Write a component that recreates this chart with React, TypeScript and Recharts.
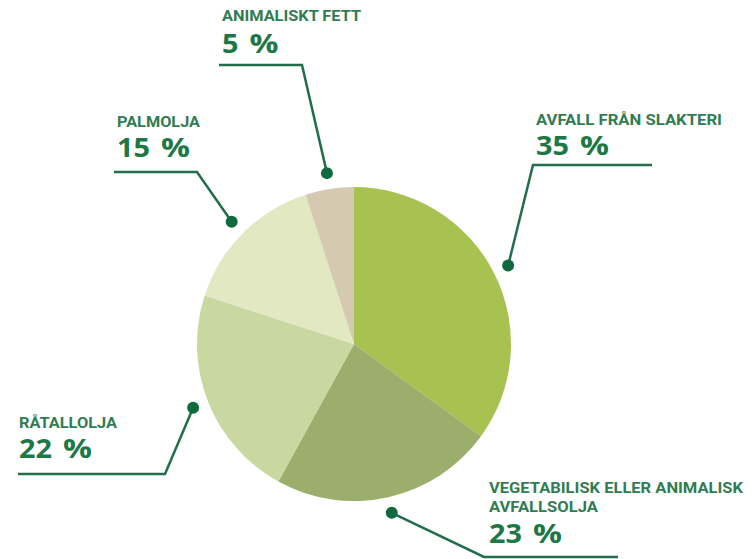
import React from "react";
import { PieChart, Pie, Cell } from "recharts";

const categories = [
  "AVFALL FRÅN SLAKTERI",
  "VEGETABILISK ELLER ANIMALISK AVFALLSOLJA",
  "RÅTALLOLJA",
  "PALMOLJA",
  "ANIMALISKT FETT",
];
const values = [35, 23, 22, 15, 5];
const percentLabels = ["35 %", "23 %", "22 %", "15 %", "5 %"];
const sliceColors = ["#a7c250", "#9bae6b", "#c9d8a1", "#e2e9c2", "#d6c9b1"];

const data = categories.map((name, i) => ({ name, value: values[i] }));

// layout of the callouts (elbow point, line end, text anchor, title lines)
type Layout = {
  elbowX: number;
  elbowY: number;
  endX: number;
  textX: number;
  titles: { text: string; y: number; w: number }[];
  pctY: number;
};
const layouts: Layout[] = [
  {
    elbowX: 533, elbowY: 165, endX: 652, textX: 536,
    titles: [{ text: "AVFALL FRÅN SLAKTERI", y: 125, w: 186 }],
    pctY: 155,
  },
  {
    elbowX: 484, elbowY: 557, endX: 618, textX: 489,
    titles: [
      { text: "VEGETABILISK ELLER ANIMALISK", y: 493, w: 254 },
      { text: "AVFALLSOLJA", y: 512, w: 109 },
    ],
    pctY: 543,
  },
  {
    elbowX: 165, elbowY: 474, endX: 18, textX: 19,
    titles: [{ text: "RÅTALLOLJA", y: 428, w: 98 }],
    pctY: 458,
  },
  {
    elbowX: 197, elbowY: 172, endX: 114, textX: 117,
    titles: [{ text: "PALMOLJA", y: 127, w: 83 }],
    pctY: 157,
  },
  {
    elbowX: 302, elbowY: 65, endX: 219, textX: 222,
    titles: [{ text: "ANIMALISKT FETT", y: 21, w: 139 }],
    pctY: 53,
  },
];

const RADIAN = Math.PI / 180;
const LINE = "#226e4a";
const TITLE = "#317c52";
const PCT = "#1e7846";
const DIGIT_W = 16.5;
const PCT_GAP = 11;
const PCT_SIGN_W = 29;

const renderLabel = (props: any) => {
  const { cx, cy, midAngle, outerRadius, index } = props;
  const L = layouts[index];
  const r = outerRadius + 16;
  const dx = cx + r * Math.cos(-midAngle * RADIAN);
  const dy = cy + r * Math.sin(-midAngle * RADIAN);
  const [num, sign] = percentLabels[index].split(" ");
  const numW = DIGIT_W * num.length;
  const pctFont = {
    fill: PCT,
    fontFamily: "'Open Sans', 'Noto Sans', sans-serif",
    fontWeight: 700,
    fontSize: 26,
  } as const;
  return (
    <g key={`lbl-${index}`}>
      <polyline
        points={`${dx},${dy} ${L.elbowX},${L.elbowY} ${L.endX},${L.elbowY}`}
        fill="none"
        stroke={LINE}
        strokeWidth={2.5}
      />
      <circle cx={dx} cy={dy} r={6} fill="#0f6a3e" />
      {L.titles.map((t, k) => (
        <text
          key={k}
          x={L.textX}
          y={t.y}
          fill={TITLE}
          fontFamily="Roboto, 'Noto Sans', sans-serif"
          fontWeight={700}
          fontSize={15.5}
          textLength={t.w}
          lengthAdjust="spacingAndGlyphs"
        >
          {t.text}
        </text>
      ))}
      <text
        x={L.textX}
        y={L.pctY}
        {...pctFont}
        textLength={numW}
        lengthAdjust="spacingAndGlyphs"
      >
        {num}
      </text>
      <text
        x={L.textX + numW + PCT_GAP}
        y={L.pctY}
        {...pctFont}
        textLength={PCT_SIGN_W}
        lengthAdjust="spacingAndGlyphs"
      >
        {sign}
      </text>
    </g>
  );
};

export default function App() {
  return (
    <div style={{ position: "absolute", left: 0, top: 0, width: 755, height: 559, background: "#fff" }}>
      <PieChart width={755} height={559} margin={{ top: 0, right: 0, bottom: 0, left: 0 }}>
        <Pie
          data={data}
          dataKey="value"
          nameKey="name"
          cx={354}
          cy={344}
          outerRadius={157}
          startAngle={90}
          endAngle={-270}
          stroke="none"
          label={renderLabel}
          labelLine={false}
          isAnimationActive={false}
        >
          {data.map((d, i) => (
            <Cell key={d.name} fill={sliceColors[i]} />
          ))}
        </Pie>
      </PieChart>
    </div>
  );
}
